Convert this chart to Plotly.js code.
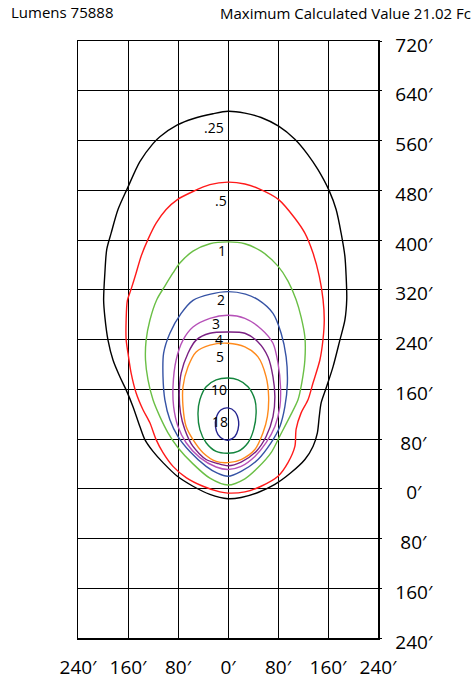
<!DOCTYPE html>
<html>
<head>
<meta charset="utf-8">
<script src="https://cdn.plot.ly/plotly-3.0.1.min.js"></script>
<style>html,body{margin:0;padding:0;background:#fff;}#chart{width:476px;height:680px;}</style>
</head>
<body>
<div id="chart"></div>
<script>
// Axis ticks (feet)
const xTickVals = [-240, -160, -80, 0, 80, 160, 240];
const xTickText = ["240\u2032", "160\u2032", "80\u2032", "0\u2032", "80\u2032", "160\u2032", "240\u2032"];
const yTickVals = [-240, -160, -80, 0, 80, 160, 240, 320, 400, 480, 560, 640, 720];
const yTickText = ["240\u2032", "160\u2032", "\u200880\u2032", "\u20070\u2032", "\u200880\u2032", "160\u2032", "240\u2032", "320\u2032", "400\u2032", "480\u2032", "560\u2032", "640\u2032", "720\u2032"];

// Iso-footcandle levels
const levels = [".25", ".5", "1", "2", "3", "4", "5", "10", "18"];
const levelColors = ["#000000", "#ff1a1a", "#6abf45", "#3653a5", "#b651b8", "#7a2183", "#ff8a1c", "#13853d", "#23238f"];

// Contour outlines (feet)
const c025x = [0,27,53,81,107,128,144,162,173,181,187,189,190,187,179,168,157,149,146,143,136,123,101,75,48,21,0,-29,-56,-81,-104,-120,-133,-141,-152,-163,-173,-184,-192,-197,-199,-197,-194,-187,-176,-161,-141,-120,-109,-81,-56,-24,0];
const c025y = [607,604,597,583,562,537,513,479,449,411,374,342,305,271,239,196,162,138,116,90,68,47,26,7,-6,-14,-16,-9,4,20,42,60,79,100,132,159,180,207,239,276,303,347,385,411,449,483,526,555,566,585,595,603,607];

const c05x = [0,27,48,81,107,123,136,146,152,154,152,147,136,128,117,109,107,96,80,53,27,0,-13,-40,-67,-88,-104,-115,-125,-136,-147,-155,-160,-163,-163,-161,-155,-147,-139,-128,-115,-99,-81,-56,-29,0];
const c05y = [493,490,483,465,435,411,379,342,305,271,240,207,170,143,122,96,68,42,20,4,-5,-7,-5,4,18,36,58,79,106,127,154,186,218,240,271,303,321,347,374,401,427,449,465,478,489,493];

const c1x = [0,27,53,80,96,109,117,123,123,118,112,99,83,69,48,27,0,-29,-56,-80,-96,-109,-120,-128,-132,-131,-125,-114,-101,-88,-77,-56,-29,0];
const c1y = [397,394,382,358,334,304,276,244,207,170,143,116,85,58,34,16,6,17,40,66,90,116,143,175,207,239,271,304,326,347,363,382,394,397];

const c2x = [0,28,48,72,85,93,95,91,83,69,48,21,0,-17,-35,-61,-80,-93,-101,-104,-103,-93,-75,-56,-28,0];
const c2y = [317,313,304,282,250,212,170,132,100,74,47,28,20,25,36,60,84,111,143,180,218,250,282,303,313,317];

const c3x = [0,27,53,72,80,84,83,75,61,43,21,0,-19,-45,-67,-80,-87,-88,-83,-72,-56,-29,0];
const c3y = [279,274,257,234,202,164,132,100,74,52,36,31,35,50,74,100,132,164,207,239,260,274,279];

const c4x = [0,27,48,64,72,75,72,61,45,21,0,-18,-35,-56,-69,-76,-78,-75,-64,-51,-29,0];
const c4y = [252,250,236,212,180,148,116,84,60,43,37,41,47,68,95,122,154,186,218,239,250,252];

const c5x = [0,27,48,61,65,63,56,43,21,0,-19,-40,-56,-67,-72,-72,-64,-51,-29,0];
const c5y = [234,228,212,180,148,116,90,63,47,42,44,58,79,100,132,164,196,220,231,234];

const c10x = [0,16,32,43,45,41,32,16,0,-19,-35,-45,-48,-45,-35,-19,0];
const c10y = [178,175,164,143,122,95,74,60,57,60,74,95,122,143,164,175,178];

const c18x = [0,11,17,16,11,0,-8,-16,-20,-19,-11,0];
const c18y = [130,124,108,95,84,78,80,87,100,114,127,130];

// Level label anchor positions (feet)
const labelX = [-22, -12, -9, -11, -19, -15, -13, -15, -13];
const labelY = [581, 463, 383, 305, 266, 240, 212, 160, 108];

const contourX = [c025x, c05x, c1x, c2x, c3x, c4x, c5x, c10x, c18x];
const contourY = [c025y, c05y, c1y, c2y, c3y, c4y, c5y, c10y, c18y];

const FONT = "Open Sans, Noto Sans, DejaVu Sans, sans-serif";

const traces = levels.map((lv, i) => ({
  type: "scatter",
  mode: "lines",
  x: contourX[i],
  y: contourY[i],
  name: lv,
  line: {color: levelColors[i], width: 1.4, shape: "spline", smoothing: 0.8},
  hoverinfo: "skip",
  showlegend: false
}));

const annotations = levels.map((lv, i) => ({
  x: labelX[i], y: labelY[i], xref: "x", yref: "y",
  text: lv, showarrow: false,
  font: {family: FONT, size: 14, color: "#000"},
  xanchor: "center", yanchor: "middle"
}));

annotations.push({
  xref: "paper", yref: "paper",
  x: (473 - 78) / 300, y: (638 - 13) / 597,
  xanchor: "right", yanchor: "middle",
  text: "Maximum Calculated Value 21.02 Fc",
  showarrow: false,
  font: {family: FONT, size: 15, color: "#000"}
});

const layout = {
  width: 476, height: 680,
  paper_bgcolor: "#fff", plot_bgcolor: "#fff",
  margin: {l: 78, r: 98, t: 41, b: 42, pad: 0},
  showlegend: false,
  title: {
    text: "Lumens 75888",
    x: 11 / 476, xref: "container", xanchor: "left",
    y: 1 - 13 / 680, yref: "container", yanchor: "middle",
    font: {family: FONT, size: 15, color: "#000"}
  },
  xaxis: {
    range: [-240, 240],
    tickmode: "array", tickvals: xTickVals, ticktext: xTickText,
    showgrid: true, gridcolor: "#000", gridwidth: 1,
    zeroline: false,
    showline: true, mirror: true, linecolor: "#000", linewidth: 1.5,
    ticks: "",
    ticklabelstandoff: 12,
    tickfont: {family: FONT, size: 19, color: "#000"},
    fixedrange: true
  },
  yaxis: {
    range: [-240, 720],
    side: "right",
    tickmode: "array", tickvals: yTickVals, ticktext: yTickText,
    showgrid: true, gridcolor: "#000", gridwidth: 1,
    zeroline: false,
    showline: true, mirror: true, linecolor: "#000", linewidth: 1.5,
    ticks: "outside", ticklen: 2, tickcolor: "#000", tickwidth: 1,
    ticklabelstandoff: 10,
    ticklabelshift: 4,
    tickfont: {family: FONT, size: 19, color: "#000"},
    fixedrange: true
  },
  annotations: annotations
};

Plotly.newPlot("chart", traces, layout, {displayModeBar: false, staticPlot: true});
</script>
</body>
</html>
